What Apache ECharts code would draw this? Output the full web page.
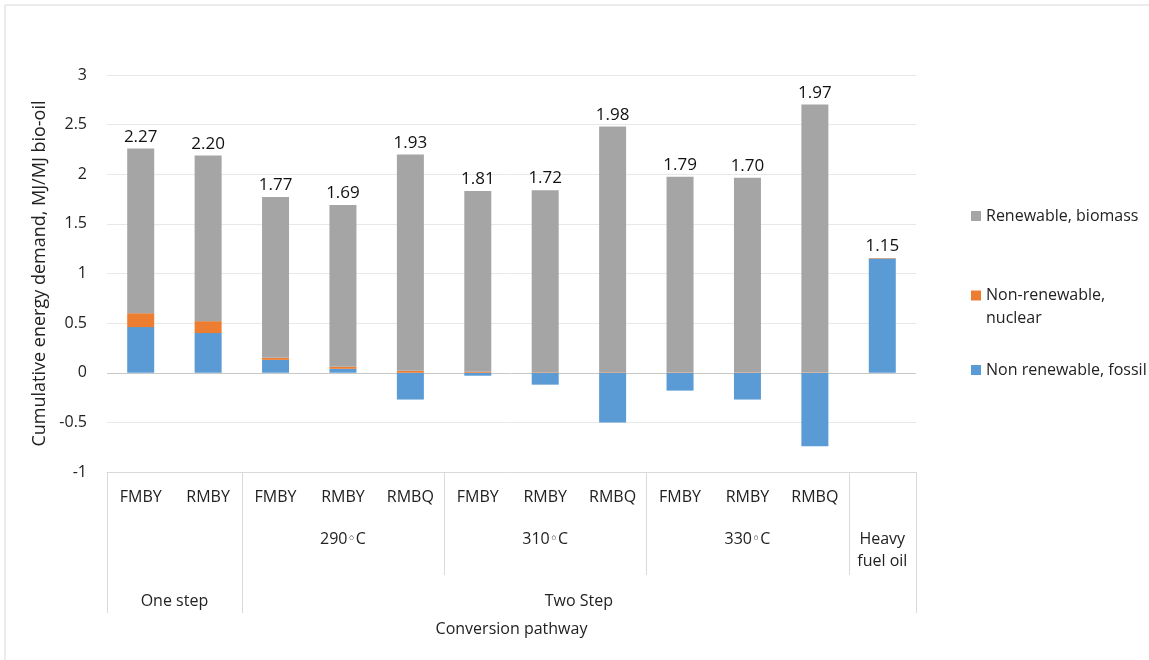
<!DOCTYPE html>
<html>
<head>
<meta charset="utf-8">
<title>Cumulative energy demand</title>
<script src="https://cdn.jsdelivr.net/npm/echarts@6/dist/echarts.min.js"></script>
<style>
html, body { margin: 0; padding: 0; background: #fff; }
#chart { width: 1149px; height: 660px; }
</style>
</head>
<body>
<div id="chart"></div>
<script>
// categories (first row under the bars)
var categories = ['FMBY', 'RMBY', 'FMBY', 'RMBY', 'RMBQ', 'FMBY', 'RMBY', 'RMBQ', 'FMBY', 'RMBY', 'RMBQ', ''];
// MJ/MJ bio-oil
var fossil  = [0.46, 0.40, 0.13, 0.04, -0.27, -0.03, -0.12, -0.50, -0.18, -0.27, -0.74, 1.15];
var nuclear = [0.14, 0.12, 0.02, 0.02, 0.02, 0.01, 0.005, 0.005, 0.004, 0.004, 0.004, 0.005];
var biomass = [1.66, 1.67, 1.62, 1.63, 2.18, 1.82, 1.835, 2.475, 1.97, 1.96, 2.70, 0];
// net totals shown above the bars
var totals = ['2.27', '2.20', '1.77', '1.69', '1.93', '1.81', '1.72', '1.98', '1.79', '1.70', '1.97', '1.15'];
// second and third row of the category axis
var tempGroups = [
	{ label: '', from: 0, to: 1 },
	{ label: '290{c|◦}C', from: 2, to: 4 },
	{ label: '310{c|◦}C', from: 5, to: 7 },
	{ label: '330{c|◦}C', from: 8, to: 10 },
	{ label: 'Heavy\nfuel oil', from: 11, to: 11 }
];
var stepGroups = [
	{ label: 'One step', from: 0, to: 1 },
	{ label: 'Two Step', from: 2, to: 11 }
];

var FONT = '"Open Sans", "DejaVu Sans", sans-serif';
var TXT = '#222';
var LINE = '#d9d9d9';

var chartObj = echarts.init(document.getElementById('chart'));

var option = {
	animation: false,
	textStyle: { fontFamily: FONT },
	grid: { left: 107, right: 233, top: 75, bottom: 188 },
	legend: [
		{
			left: 971, top: 208, padding: 0, itemWidth: 10, itemHeight: 10,
			icon: 'rect', selectedMode: false,
			textStyle: { fontSize: 16, color: TXT },
			data: ['Renewable, biomass']
		},
		{
			left: 971, top: 261, padding: 0, itemWidth: 10, itemHeight: 10,
			icon: 'rect', selectedMode: false,
			// blank first line keeps the icon level with "Non-renewable,"
			formatter: function () { return ' \nNon-renewable,\nnuclear'; },
			textStyle: { fontSize: 16, color: TXT, lineHeight: 23 },
			data: ['Non-renewable, nuclear']
		},
		{
			left: 971, top: 362, padding: 0, itemWidth: 10, itemHeight: 10,
			icon: 'rect', selectedMode: false,
			textStyle: { fontSize: 16, color: TXT },
			data: ['Non renewable, fossil']
		}
	],
	xAxis: {
		type: 'category',
		data: categories,
		axisLine: { onZero: false, lineStyle: { color: LINE } },
		axisTick: { show: false },
		axisLabel: { interval: 0, fontSize: 16, color: TXT, margin: 17 },
		name: 'Conversion pathway',
		nameLocation: 'middle',
		nameGap: 149,
		nameTextStyle: { fontSize: 16, color: TXT }
	},
	yAxis: {
		type: 'value',
		min: -1,
		max: 3,
		interval: 0.5,
		axisLine: { show: false },
		axisTick: { show: false },
		axisLabel: { fontSize: 16, color: TXT, margin: 20 },
		splitLine: { lineStyle: { color: ['#d9d9d9', '#e8e8e8', '#c8c8c8', '#e8e8e8', '#e8e8e8', '#e8e8e8', '#e8e8e8', '#e8e8e8', '#e8e8e8'] } },
		name: 'Cumulative energy demand, MJ/MJ bio-oil',
		nameLocation: 'middle',
		nameGap: 50,
		nameTextStyle: { fontSize: 18, color: TXT }
	},
	series: [
		{
			name: 'Non renewable, fossil',
			type: 'bar',
			stack: 'ced',
			barWidth: 27,
			itemStyle: { color: '#5b9bd5' },
			data: fossil
		},
		{
			name: 'Non-renewable, nuclear',
			type: 'bar',
			stack: 'ced',
			itemStyle: { color: '#ed7d31' },
			data: nuclear
		},
		{
			name: 'Renewable, biomass',
			type: 'bar',
			stack: 'ced',
			itemStyle: { color: '#a5a5a5' },
			label: {
				show: true,
				position: 'top',
				distance: 3,
				fontSize: 17,
				color: '#111',
				formatter: function (p) { return totals[p.dataIndex]; }
			},
			data: biomass
		}
	]
};

chartObj.setOption(option);

// separators and group labels under the category axis
var xa = function (i) { return chartObj.convertToPixel({ xAxisIndex: 0 }, i); };
var bw = xa(1) - xa(0);
var axisY = chartObj.convertToPixel({ yAxisIndex: 0 }, -1);
var graphics = [{
	type: 'rect', silent: true,
	shape: { x: 5, y: 5, width: 1300, height: 800 },
	style: { fill: 'none', stroke: LINE, lineWidth: 1 }
}];

function sepLine(x, len) {
	x = Math.round(x) + 0.5;
	graphics.push({
		type: 'line', silent: true,
		shape: { x1: x, y1: axisY, x2: x, y2: axisY + len },
		style: { stroke: LINE, lineWidth: 1 }
	});
}
function groupText(g, y, lh) {
	var cx = (xa(g.from) + xa(g.to)) / 2;
	graphics.push({
		type: 'text', silent: true,
		style: {
			text: g.label, x: cx, y: y, align: 'center', verticalAlign: 'top',
			fontSize: 16, fontFamily: FONT, fill: TXT, lineHeight: lh,
			rich: { c: { fontSize: 14, fontFamily: FONT, fill: TXT, lineHeight: lh, verticalAlign: 'middle' } }
		}
	});
}

tempGroups.forEach(function (g) {
	sepLine(xa(g.from) - bw / 2, 103);
	sepLine(xa(g.to) + bw / 2, 103);
	groupText(g, axisY + 56, 22);
});
stepGroups.forEach(function (g) {
	sepLine(xa(g.from) - bw / 2, 141);
	sepLine(xa(g.to) + bw / 2, 141);
	groupText(g, axisY + 118, 22);
});

chartObj.setOption({ graphic: graphics });
</script>
</body>
</html>
